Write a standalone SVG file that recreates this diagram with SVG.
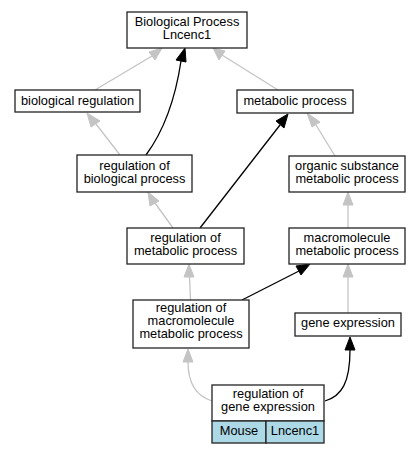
<svg xmlns="http://www.w3.org/2000/svg" width="420" height="453" viewBox="0 0 420 453">
<defs>
<style>
.box{fill:#ffffff;stroke:#222222;stroke-width:1.3}
.cell{fill:#add8e6;stroke:#222222;stroke-width:1.3}
text{font-family:"Liberation Sans",Arial,sans-serif;font-size:12.8px;fill:#000;text-anchor:middle}
.g{fill:none;stroke:#c4c4c4;stroke-width:1.3}
.b{fill:none;stroke:#000;stroke-width:1.3}
.ga{fill:#c4c4c4;stroke:#c4c4c4;stroke-width:1}
.ba{fill:#000;stroke:#000;stroke-width:1}
</style>
</defs>
<rect width="420" height="453" fill="#ffffff"/>
<g id="edges">
<path class="g" d="M95,90 L152,56"/><polygon class="ga" points="162,48 149,52 155,60"/>
<path class="b" d="M146,155 C160,136 174,108 181,61"/><polygon class="ba" points="185,48 176,60 186,62"/>
<path class="g" d="M278,90 L222,55"/><polygon class="ga" points="213,48 219,60 225,51"/>
<path class="g" d="M120,155 L96,124"/><polygon class="ga" points="87,113 91,127 100,121"/>
<path class="b" d="M200,228 L280,125"/><polygon class="ba" points="288,114 276,121 284,128"/>
<path class="g" d="M173,228 L155,203"/><polygon class="ga" points="148,192 150,206 159,201"/>
<path class="g" d="M335,156 L316,125"/><polygon class="ga" points="307,113 312,127 320,122"/>
<path class="g" d="M348,228 L348,205"/><polygon class="ga" points="348,192 343,205 353,205"/>
<path class="g" d="M348,313 L348,277"/><polygon class="ga" points="348,264 343,277 353,277"/>
<path class="b" d="M242,300 L299,271"/><polygon class="ba" points="310,264 296,266 301,275"/>
<path class="g" d="M190.5,300 L189.5,277"/><polygon class="ga" points="189,264 184,277 194,277"/>
<path class="g" d="M212,401 C196,396 188,382 188,362"/><polygon class="ga" points="188,349 183,362 193,362"/>
<path class="b" d="M325,401 C342,396 350,382 350,350"/><polygon class="ba" points="350,337 345,350 355,350"/>
</g>
<g id="n_bp"><rect class="box" x="127" y="12" width="120" height="36"/><text x="187" y="25.7">Biological Process</text><text x="187" y="38.5">Lncenc1</text></g>
<g id="n_bioreg"><rect class="box" x="15" y="90" width="125" height="22"/><text x="77.5" y="105">biological regulation</text></g>
<g id="n_metproc"><rect class="box" x="237" y="90" width="116" height="23"/><text x="295" y="105">metabolic process</text></g>
<g id="n_regbio"><rect class="box" x="77" y="155" width="115" height="37"/><text x="134.5" y="170">regulation of</text><text x="134.5" y="182.8">biological process</text></g>
<g id="n_organic"><rect class="box" x="289" y="156" width="116" height="36"/><text x="347" y="170">organic substance</text><text x="347" y="182.8">metabolic process</text></g>
<g id="n_regmet"><rect class="box" x="127" y="228" width="117" height="36"/><text x="185.5" y="241.7">regulation of</text><text x="185.5" y="254.5">metabolic process</text></g>
<g id="n_macromol"><rect class="box" x="289" y="228" width="116" height="36"/><text x="347" y="241.7">macromolecule</text><text x="347" y="254.5">metabolic process</text></g>
<g id="n_regmacro"><rect class="box" x="133" y="300" width="116" height="48"/><text x="191" y="312">regulation of</text><text x="191" y="324.8">macromolecule</text><text x="191" y="337.6">metabolic process</text></g>
<g id="n_geneexp"><rect class="box" x="295" y="313" width="106" height="23"/><text x="348" y="327">gene expression</text></g>
<g id="n_reggene"><rect class="box" x="212" y="385" width="112" height="36"/><text x="268" y="398">regulation of</text><text x="268" y="411">gene expression</text>
<rect class="cell" x="212" y="421" width="54" height="22"/><rect class="cell" x="266" y="421" width="58" height="22"/><text x="239" y="435">Mouse</text><text x="295" y="435">Lncenc1</text></g>
</svg>
